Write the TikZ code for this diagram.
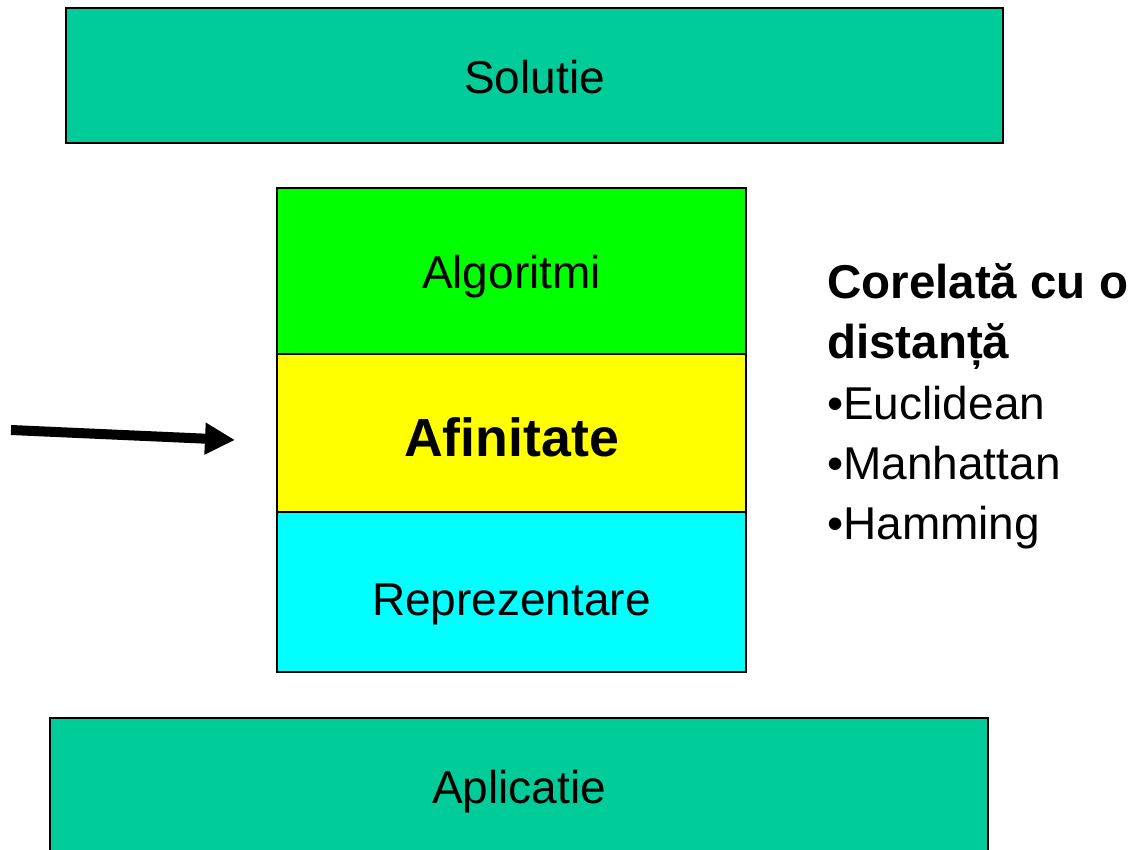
\documentclass[tikz,border=0pt]{standalone}
\usepackage{fontspec}
\setmainfont{Liberation Sans}
\usetikzlibrary{arrows.meta, positioning}
\definecolor{seagreen}{HTML}{00CC99}
\definecolor{brightgreen}{HTML}{00FF00}
\definecolor{brightyellow}{HTML}{FFFF00}
\definecolor{brightcyan}{HTML}{00FFFF}
\tikzstyle{block} = [draw, line width=2pt, rectangle, inner sep=0pt, text height=36pt, text depth=0pt, font=\fontsize{46}{58}\selectfont]
\tikzstyle{level} = [block, minimum width=937pt]
\tikzstyle{layer} = [block, minimum width=469pt]
\tikzstyle{label} = [font=\fontsize{46}{60}\selectfont, inner sep=0pt]
\tikzstyle{path} = [-{Triangle[length=30pt, width=30pt]}, line width=10pt]

\begin{document}
\begin{tikzpicture}[x=1pt, y=-1pt]
    \useasboundingbox (0, 0) rectangle (1130, 850);

    \node (solution) [level, fill=seagreen, minimum height=135pt] at (534.5, 75.5) {Solutie};

    \node (layer 1) [layer, fill=brightgreen, minimum height=166pt] at (511.5, 271) {Algoritmi};
    \node (layer 2) [layer, fill=brightyellow, minimum height=158pt, text height=47pt, font=\fontsize{53.7}{64}\selectfont\bfseries] at (511.5, 433) {Afinitate};
    \node (layer 3) [layer, fill=brightcyan, minimum height=160pt, text height=46pt] at (511.5, 592) {Reprezentare};

    \begin{scope}
        \clip (0, 0) rectangle (1130, 850);
        \node (application) [level, fill=seagreen, minimum height=136pt, minimum width=938pt, text height=35pt] at (519, 786) {Aplicatie};
    \end{scope}

    \coordinate (source) at (11, 430);
    \coordinate (target) at (235, 440);
    \draw [path] (source) -- (target);

    \node (metric) [label, anchor=base west, align=left, font=\fontsize{47.5}{60}\selectfont\bfseries] at (827, 359) {Corelată cu o\\distanță};
    \foreach \name [count=\i] in {Euclidean, Manhattan, Hamming} {
        \node (metric \i) [label, anchor=base west] at (827, 359 + 60 * \i) {•\name};
    }
\end{tikzpicture}
\end{document}
